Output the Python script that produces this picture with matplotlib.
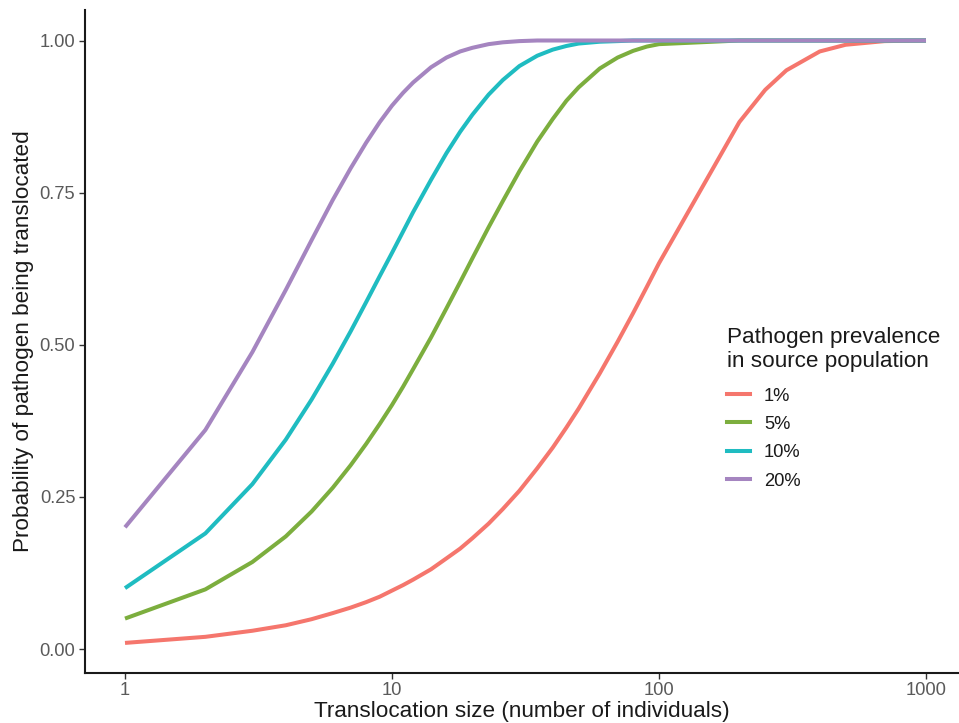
"""Probability of translocating a pathogen vs translocation size."""

import matplotlib.pyplot as plt
from matplotlib.lines import Line2D
import numpy as np

plt.rcParams["font.family"] = ["Liberation Sans", "DejaVu Sans"]

# translocation sizes (number of individuals)
sizes = [1, 2, 3, 4, 5, 6, 7, 8, 9, 10, 11, 12, 14, 16, 18, 20, 23, 26, 30,
         35, 40, 45, 50, 60, 70, 80, 90, 100, 200, 250, 300, 400, 500, 700, 1000]

# probability of pathogen being translocated
prob_1 = [0.010, 0.020, 0.030, 0.039, 0.049, 0.059, 0.068, 0.077, 0.086, 0.096,
          0.105, 0.114, 0.131, 0.149, 0.165, 0.182, 0.206, 0.230, 0.260,
          0.297, 0.331, 0.364, 0.395, 0.453, 0.505, 0.552, 0.595, 0.634,
          0.866, 0.919, 0.951, 0.982, 0.993, 0.999, 1.000]
prob_5 = [0.050, 0.098, 0.143, 0.185, 0.226, 0.265, 0.302, 0.337, 0.370, 0.401,
          0.431, 0.460, 0.512, 0.560, 0.603, 0.642, 0.693, 0.736, 0.785,
          0.834, 0.871, 0.901, 0.923, 0.954, 0.972, 0.983, 0.990, 0.994,
          1.000, 1.000, 1.000, 1.000, 1.000, 1.000, 1.000]
prob_10 = [0.100, 0.190, 0.271, 0.344, 0.410, 0.469, 0.522, 0.570, 0.613, 0.651,
           0.686, 0.718, 0.771, 0.815, 0.850, 0.878, 0.911, 0.935, 0.958,
           0.975, 0.985, 0.991, 0.995, 0.998, 0.999, 1.000, 1.000, 1.000,
           1.000, 1.000, 1.000, 1.000, 1.000, 1.000, 1.000]
prob_20 = [0.200, 0.360, 0.488, 0.590, 0.672, 0.738, 0.790, 0.832, 0.866, 0.893,
           0.914, 0.931, 0.956, 0.972, 0.982, 0.988, 0.994, 0.997, 0.999,
           1.000, 1.000, 1.000, 1.000, 1.000, 1.000, 1.000, 1.000, 1.000,
           1.000, 1.000, 1.000, 1.000, 1.000, 1.000, 1.000]

labels = ["1%", "5%", "10%", "20%"]
colors = ["#F5766D", "#7CAE3E", "#1FBCC1", "#A585C0"]
series = [prob_1, prob_5, prob_10, prob_20]

fig = plt.figure(figsize=(9.59, 7.23), dpi=100)
W, H = 959, 723
ax = fig.add_axes([85 / W, 1 - 672.7 / H, (959 - 85) / W, (672.7 - 10) / H])

for vals, col in zip(series, colors):
    ax.plot(sizes, vals, color=col, linewidth=2.9, solid_capstyle="butt")

ax.set_xscale("log")
# x=1 at 125 px, one decade = 267 px
ax.set_xlim(10 ** (-40 / 267), 10 ** ((959 - 125) / 267))
# y=0 at 649 px, y=1 at 40.5 px
ax.set_ylim(-(672.7 - 649) / 608.5, 1 + (40.5 - 10) / 608.5)

ax.set_xticks([1, 10, 100, 1000])
ax.set_xticklabels(["1", "10", "100", "1000"])
ax.xaxis.set_minor_locator(plt.NullLocator())
ax.set_yticks([0, 0.25, 0.5, 0.75, 1.0])
ax.set_yticklabels(["0.00", "0.25", "0.50", "0.75", "1.00"])

ax.tick_params(axis="both", length=4, width=1.0, color="#333333",
               labelsize=13.2, labelcolor="#5a5a5a", pad=3)

for side in ["top", "right"]:
    ax.spines[side].set_visible(False)
for side in ["left", "bottom"]:
    ax.spines[side].set_linewidth(1.5)
    ax.spines[side].set_color("#1a1a1a")

ax.set_xlabel("Translocation size (number of individuals)", fontsize=16.2,
              color="#1a1a1a", labelpad=1)
ax.set_ylabel("Probability of pathogen being translocated", fontsize=16.2,
              color="#1a1a1a", labelpad=4)

handles = [Line2D([0], [0], color=c, linewidth=2.9) for c in colors]
leg = ax.legend(handles, labels, title="Pathogen prevalence\nin source population",
                loc="upper left", bbox_to_anchor=(718 / W, 1 - 318 / H),
                bbox_transform=fig.transFigure, frameon=False, fontsize=13.2,
                title_fontsize=16.2, handlelength=1.25, handletextpad=0.75,
                labelspacing=0.62, borderpad=0, alignment="left")
leg._legend_box.sep = 10.9
leg.get_title().set_color("#1a1a1a")
for t in leg.get_texts():
    t.set_color("#1a1a1a")

fig.savefig("out.png", dpi=100)
